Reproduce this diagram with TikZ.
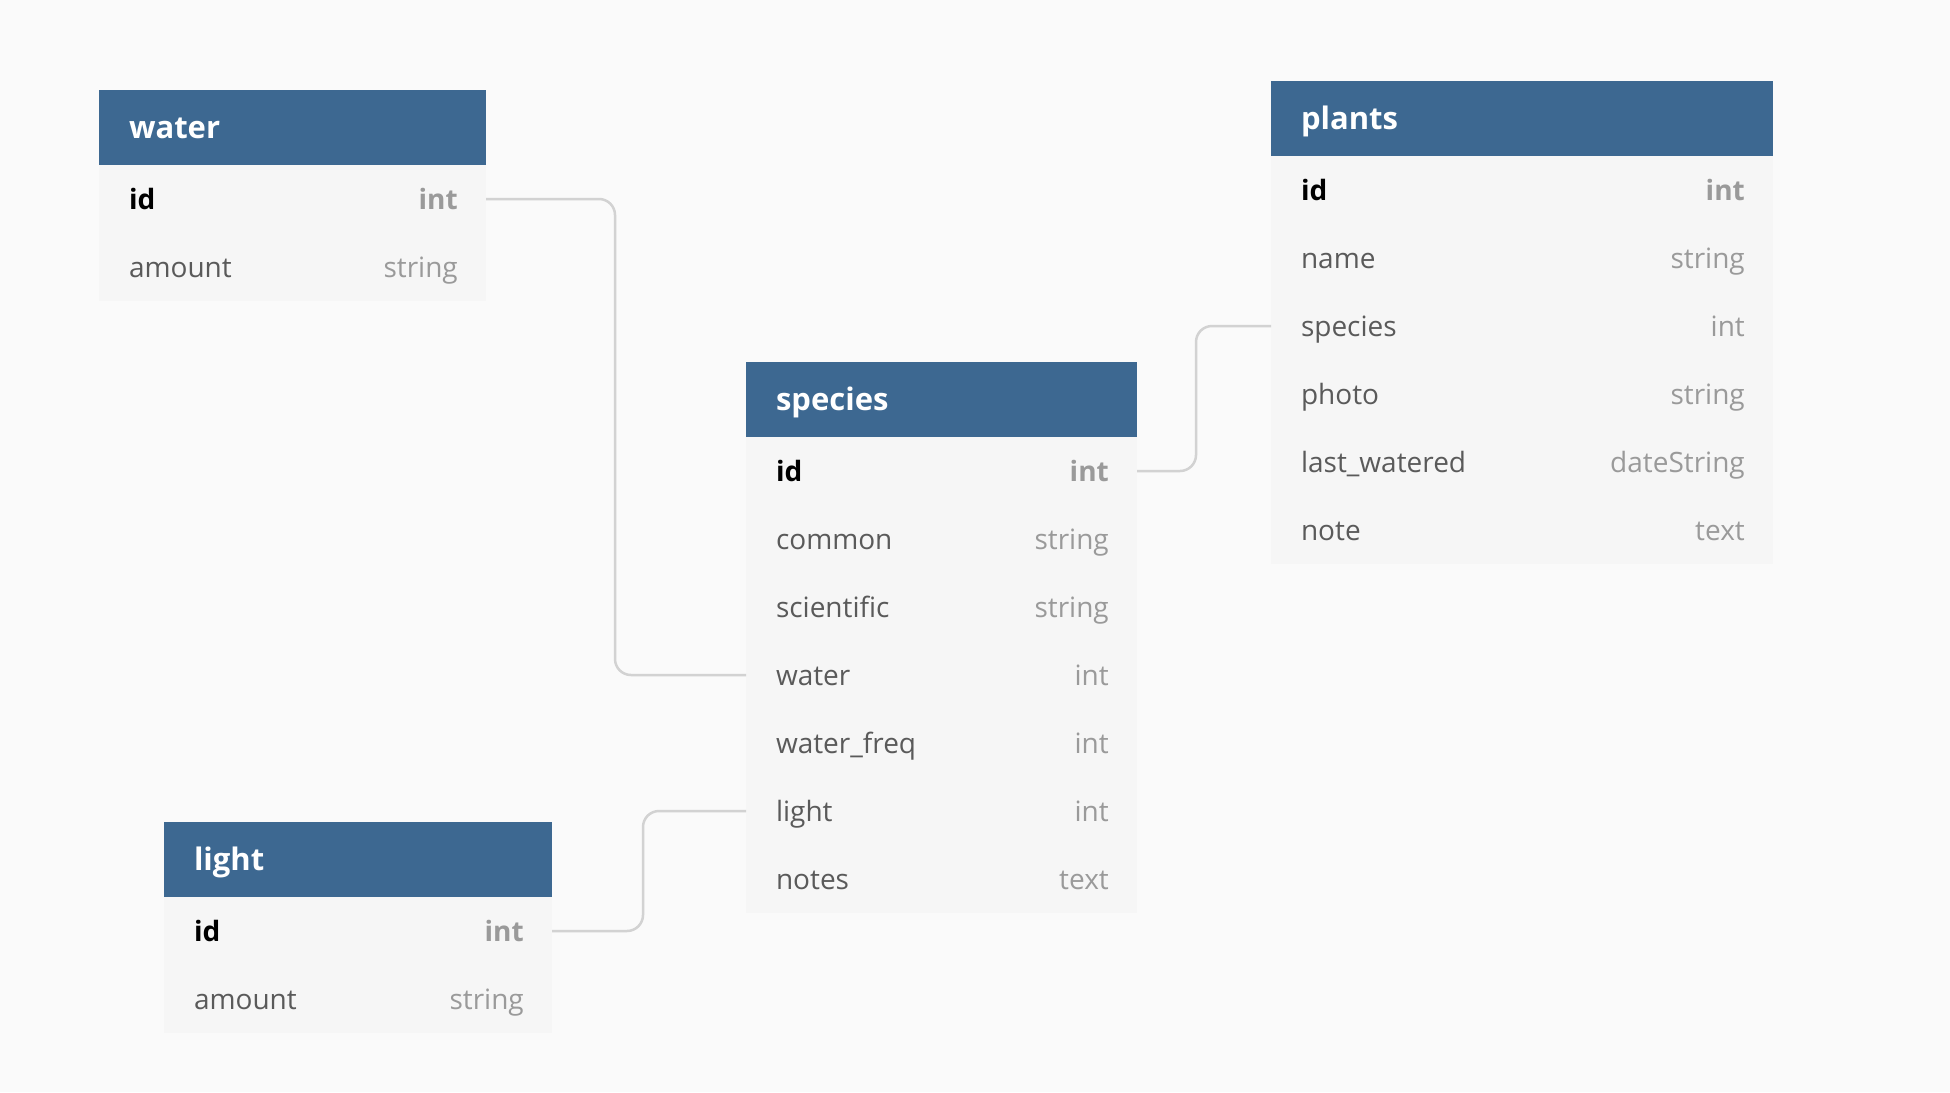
\documentclass[tikz,border=0pt]{standalone}
\usepackage{fontspec}
\setmainfont{Open Sans}
\usetikzlibrary{positioning}

\definecolor{bgcol}{HTML}{FAFAFA}
\definecolor{headcol}{HTML}{3D6891}
\definecolor{bodycol}{HTML}{F6F6F6}
\definecolor{namecol}{HTML}{5A5A5A}
\definecolor{typecol}{HTML}{9A9A9A}
\definecolor{linkcol}{HTML}{D2D2D2}

\tikzset{
  head/.style={fill=headcol, text=white, anchor=north west, align=left,
    inner xsep=30pt, inner ysep=0pt, outer sep=0pt, minimum height=75pt,
    text height=27pt, text depth=6pt,
    font=\fontsize{31pt}{36pt}\selectfont\bfseries},
  row/.style={fill=bodycol, text=namecol, align=left,
    inner xsep=30pt, inner ysep=0pt, outer sep=0pt, minimum height=68pt,
    text height=26pt, text depth=6pt,
    font=\fontsize{28pt}{34pt}\selectfont},
  keyrow/.style={row, text=black, font=\fontsize{28pt}{34pt}\selectfont\bfseries},
  type/.style={text=typecol, inner sep=0pt, text height=26pt, text depth=6pt,
    font=\fontsize{28pt}{34pt}\selectfont},
  keytype/.style={type, font=\fontsize{28pt}{34pt}\selectfont\bfseries},
  link/.style={draw=linkcol, line width=2.5pt, rounded corners=16pt}
}

\begin{document}
\begin{tikzpicture}[x=1pt, y=-1pt]
  \fill[bgcol] (0,0) rectangle (1950,1092);

  % water
  \node[head, text width=327pt] (W-0) at (99,90) {water};
  \node[keyrow, text width=327pt, below=0pt of W-0] (W-1) {id};
  \node[row, text width=327pt, below=0pt of W-1] (W-2) {amount};
  \node[keytype, left=28pt of W-1.east] {int};
  \node[type, left=28pt of W-2.east] {string};

  % species
  \node[head, text width=331pt] (S-0) at (746,362) {species};
  \node[keyrow, text width=331pt, below=0pt of S-0] (S-1) {id};
  \node[row, text width=331pt, below=0pt of S-1] (S-2) {common};
  \node[row, text width=331pt, below=0pt of S-2] (S-3) {scientific};
  \node[row, text width=331pt, below=0pt of S-3] (S-4) {water};
  \node[row, text width=331pt, below=0pt of S-4] (S-5) {water\_freq};
  \node[row, text width=331pt, below=0pt of S-5] (S-6) {light};
  \node[row, text width=331pt, below=0pt of S-6] (S-7) {notes};
  \node[keytype, left=28pt of S-1.east] {int};
  \node[type, left=28pt of S-2.east] {string};
  \node[type, left=28pt of S-3.east] {string};
  \node[type, left=28pt of S-4.east] {int};
  \node[type, left=28pt of S-5.east] {int};
  \node[type, left=28pt of S-6.east] {int};
  \node[type, left=28pt of S-7.east] {text};

  % plants
  \node[head, text width=442pt] (P-0) at (1271,81) {plants};
  \node[keyrow, text width=442pt, below=0pt of P-0] (P-1) {id};
  \node[row, text width=442pt, below=0pt of P-1] (P-2) {name};
  \node[row, text width=442pt, below=0pt of P-2] (P-3) {species};
  \node[row, text width=442pt, below=0pt of P-3] (P-4) {photo};
  \node[row, text width=442pt, below=0pt of P-4] (P-5) {last\_watered};
  \node[row, text width=442pt, below=0pt of P-5] (P-6) {note};
  \node[keytype, left=28pt of P-1.east] {int};
  \node[type, left=28pt of P-2.east] {string};
  \node[type, left=28pt of P-3.east] {int};
  \node[type, left=28pt of P-4.east] {string};
  \node[type, left=28pt of P-5.east] {dateString};
  \node[type, left=28pt of P-6.east] {text};

  % light
  \node[head, text width=328pt] (L-0) at (164,822) {light};
  \node[keyrow, text width=328pt, below=0pt of L-0] (L-1) {id};
  \node[row, text width=328pt, below=0pt of L-1] (L-2) {amount};
  \node[keytype, left=28pt of L-1.east] {int};
  \node[type, left=28pt of L-2.east] {string};

  % links
  \draw[link] (W-1.east) -- ++(129,0) |- (S-4.west);
  \draw[link] (S-1.east) -- ++(59,0) |- (P-3.west);
  \draw[link] (L-1.east) -- ++(91,0) |- (S-6.west);
\end{tikzpicture}
\end{document}
